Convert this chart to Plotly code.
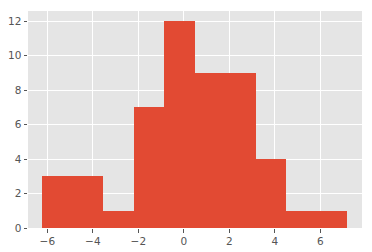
import plotly.graph_objects as go

bin_edges = [-6.23, -4.89, -3.55, -2.21, -0.87, 0.47, 1.81, 3.15, 4.49, 5.83, 7.17]
counts = [3, 3, 1, 7, 12, 9, 9, 4, 1, 1]
x_ticks = [-6, -4, -2, 0, 2, 4, 6]
y_ticks = [0, 2, 4, 6, 8, 10, 12]

centers = [(a + b) / 2 for a, b in zip(bin_edges[:-1], bin_edges[1:])]
widths = [b - a for a, b in zip(bin_edges[:-1], bin_edges[1:])]

fig = go.Figure(go.Bar(x=centers, y=counts, width=widths,
                       marker=dict(color="#E24A33", line=dict(width=0))))

fig.update_layout(
    width=372, height=252,
    margin=dict(l=28, r=10, t=11, b=24),
    paper_bgcolor="white", plot_bgcolor="#E5E5E5",
    showlegend=False, bargap=0,
    font=dict(family="DejaVu Sans", size=10.5, color="#555555"),
)
fig.update_xaxes(range=[-6.85, 7.83], tickvals=x_ticks, ticktext=[str(v).replace("-", "\u2212") for v in x_ticks],
                 showgrid=True, gridcolor="white", gridwidth=1, zeroline=False, automargin=False,
                 ticks="outside", ticklen=3.5, tickcolor="#555555", showline=False)
fig.update_yaxes(range=[0, 12.58], tickvals=y_ticks, automargin=False,
                 showgrid=True, gridcolor="white", gridwidth=1, zeroline=False,
                 ticks="outside", ticklen=3.5, tickcolor="#555555", showline=False)

fig.write_html("out.html")
